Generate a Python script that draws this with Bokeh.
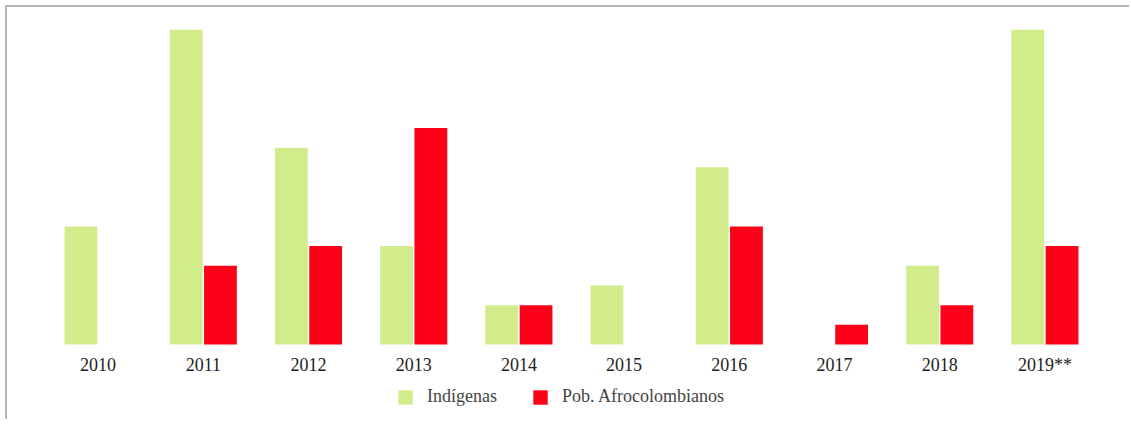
from bokeh.plotting import figure
from bokeh.models import ColumnDataSource, FactorRange, Legend, LegendItem
from bokeh.transform import dodge
from bokeh.embed import file_html
from bokeh.resources import INLINE

years = ["2010", "2011", "2012", "2013", "2014", "2015", "2016", "2017", "2018", "2019**"]
indigenas = [6, 16, 10, 5, 2, 3, 9, 0, 4, 16]
afro = [0, 4, 5, 11, 2, 0, 6, 1, 2, 5]

GREEN = "#d3ec8b"
RED = "#ff0019"

src = ColumnDataSource(dict(year=years, ind=indigenas, afro=afro))

p = figure(x_range=FactorRange(*years, range_padding=0), y_range=(-3.91, 16),
           width=1124, height=414, output_backend="svg", toolbar_location=None,
           min_border_left=38, min_border_right=34, min_border_top=22, min_border_bottom=0)
p.styles = {"margin-left": "5px", "margin-top": "5px",
            "border-top": "2px solid #b3b3b3", "border-left": "2px solid #b3b3b3"}

r1 = p.vbar(x=dodge("year", -0.163, range=p.x_range), top="ind", width=0.312, source=src,
            fill_color=GREEN, line_color=None)
r2 = p.vbar(x=dodge("year", 0.163, range=p.x_range), top="afro", width=0.312, source=src,
            fill_color=RED, line_color=None)

p.outline_line_color = None
p.grid.visible = False
p.yaxis.visible = False
ax = p.xaxis[0]
ax.fixed_location = 0
ax.axis_line_color = None
ax.major_tick_line_color = None
ax.minor_tick_line_color = None
ax.major_label_standoff = 4
ax.major_label_text_font = "Liberation Serif"
ax.major_label_text_font_size = "18px"
ax.major_label_text_color = "#222222"

legend = Legend(items=[LegendItem(label="Indígenas", renderers=[r1]),
                       LegendItem(label="Pob. Afrocolombianos", renderers=[r2])],
                orientation="horizontal", location=(351, 14),
                label_text_font="Liberation Serif", label_text_font_size="18px",
                label_text_color="#444444", glyph_width=18, glyph_height=18,
                label_height=18, spacing=34, label_standoff=13,
                margin=0, padding=4, border_line_color=None, background_fill_alpha=0)
p.add_layout(legend, "center")

open("out.html", "w").write(file_html(p, INLINE))
